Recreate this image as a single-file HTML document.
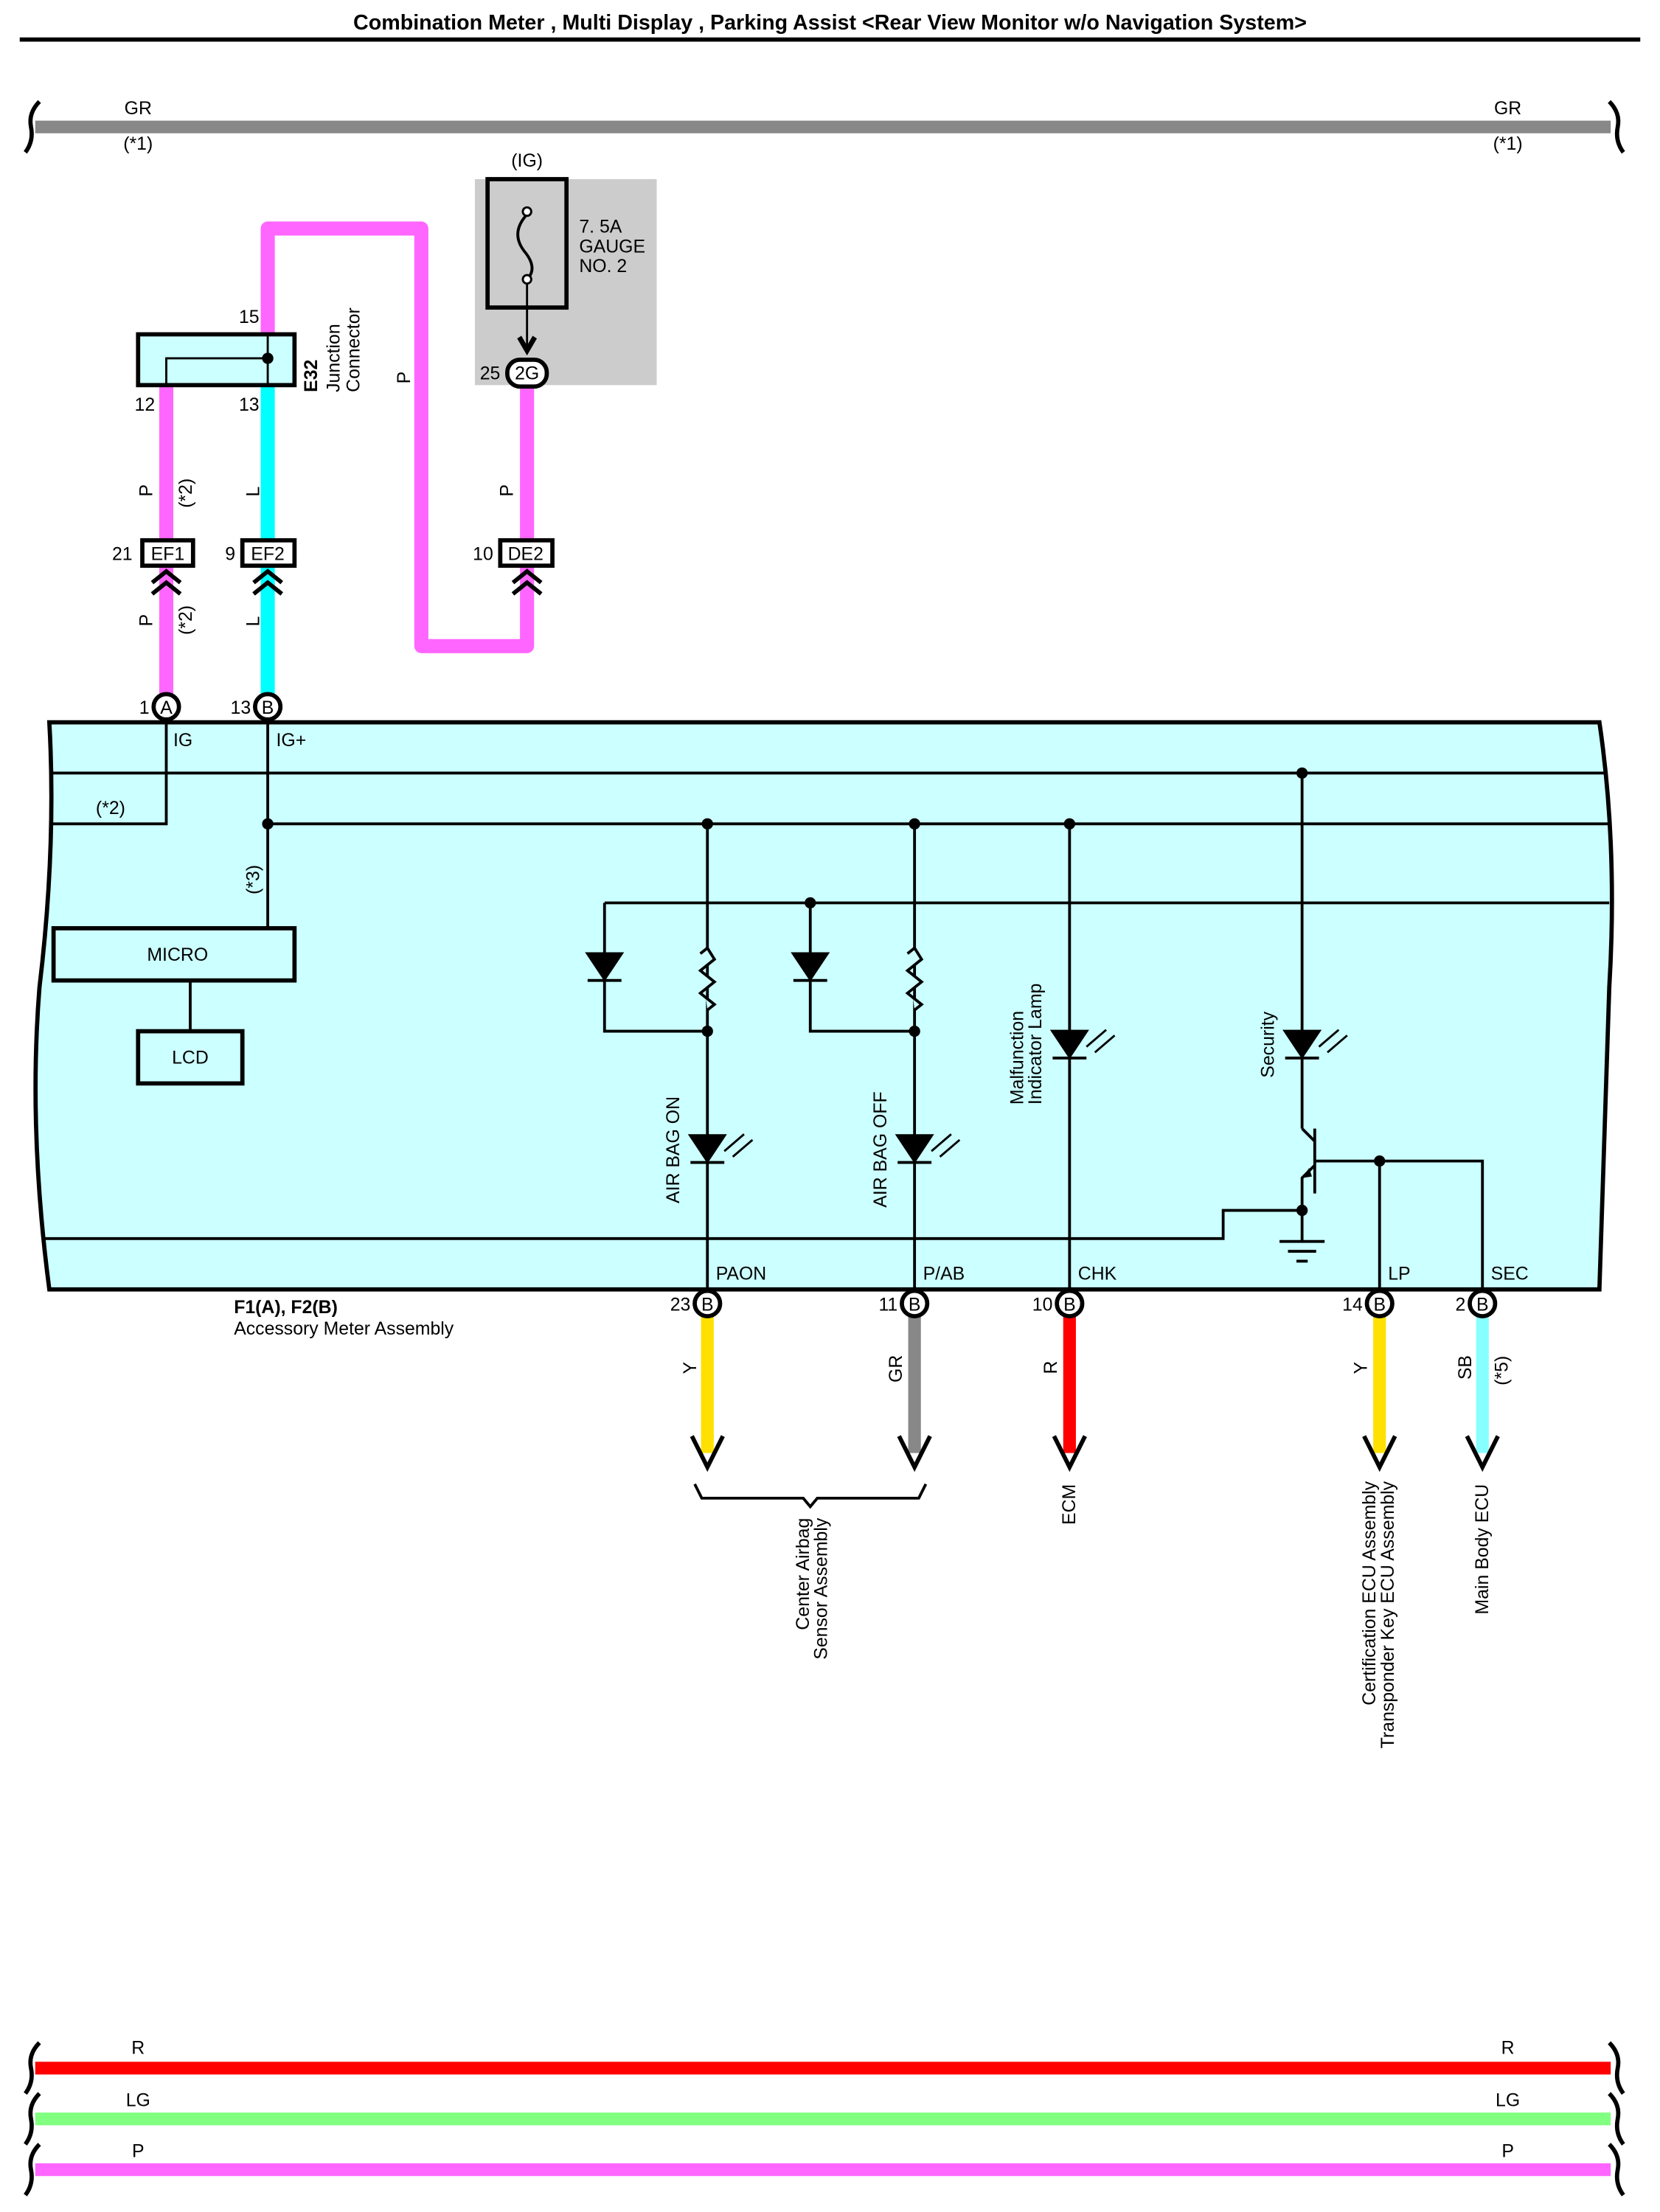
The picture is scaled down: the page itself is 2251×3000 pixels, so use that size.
<!DOCTYPE html>
<html><head><meta charset="utf-8"><style>html,body{margin:0;padding:0;background:#fff}svg{display:block}text{font-family:"Liberation Sans",sans-serif;font-size:13px;fill:#000}</style></head><body>
<svg width="2251" height="3000" viewBox="0 0 1178 1568" preserveAspectRatio="none" xmlns="http://www.w3.org/2000/svg">
<text x="589" y="21" text-anchor="middle" font-weight="bold" style="font-size:15px">Combination Meter , Multi Display , Parking Assist &lt;Rear View Monitor w/o Navigation System&gt;</text>
<line x1="14" y1="28" x2="1164" y2="28" stroke="#000" stroke-width="3"/>
<g fill="none" stroke="#000" stroke-width="3">
<path d="M28 72 Q20 80 22 90 Q24 100 18 108"/><path d="M1142 72 Q1150 80 1148 90 Q1146 100 1152 108"/>
<path d="M28 1448 Q20 1456 22 1466 Q24 1476 18 1484"/><path d="M1142 1448 Q1150 1456 1148 1466 Q1146 1476 1152 1484"/>
<path d="M28 1484 Q20 1492 22 1502 Q24 1512 18 1520"/><path d="M1142 1484 Q1150 1492 1148 1502 Q1146 1512 1152 1520"/>
<path d="M28 1520 Q20 1528 22 1538 Q24 1548 18 1556"/><path d="M1142 1520 Q1150 1528 1148 1538 Q1146 1548 1152 1556"/>
</g>
<line x1="25" y1="90" x2="1143" y2="90" stroke="#888" stroke-width="9"/>
<text x="98" y="81" text-anchor="middle">GR</text><text x="1070" y="81" text-anchor="middle">GR</text>
<text x="98" y="106" text-anchor="middle">(*1)</text><text x="1070" y="106" text-anchor="middle">(*1)</text>
<line x1="25" y1="1466" x2="1143" y2="1466" stroke="#f00" stroke-width="9"/>
<line x1="25" y1="1502" x2="1143" y2="1502" stroke="#80ff80" stroke-width="9"/>
<line x1="25" y1="1538" x2="1143" y2="1538" stroke="#ff66ff" stroke-width="9"/>
<text x="98" y="1456" text-anchor="middle">R</text><text x="1070" y="1456" text-anchor="middle">R</text>
<text x="98" y="1493" text-anchor="middle">LG</text><text x="1070" y="1493" text-anchor="middle">LG</text>
<text x="98" y="1529" text-anchor="middle">P</text><text x="1070" y="1529" text-anchor="middle">P</text>
<rect x="337" y="127" width="129" height="146" fill="#ccc"/>
<text x="374" y="118" text-anchor="middle">(IG)</text>
<rect x="346" y="127" width="56" height="91" fill="none" stroke="#000" stroke-width="3"/>
<path d="M374 152 Q362 165 372 178 Q382 190 374 198" fill="none" stroke="#000" stroke-width="2"/>
<circle cx="374" cy="150" r="3" fill="#fff" stroke="#000" stroke-width="1.5"/><circle cx="374" cy="198" r="3" fill="#fff" stroke="#000" stroke-width="1.5"/>
<line x1="374" y1="201" x2="374" y2="250" stroke="#000" stroke-width="1.5"/>
<path d="M367 240 L374 252 L381 240 L378 238 L374 245 L370 238 Z" fill="#000"/>
<text x="411" y="165">7. 5A</text><text x="411" y="179">GAUGE</text><text x="411" y="193">NO. 2</text>
<path d="M374 273 V458 H299 V162 H190 V237" fill="none" stroke="#ff66ff" stroke-width="10" stroke-linejoin="round"/>
<rect x="360" y="255" width="28" height="19" rx="9" fill="#fff" stroke="#000" stroke-width="3"/>
<text x="374" y="269" text-anchor="middle">2G</text><text x="355" y="269" text-anchor="end">25</text>
<text transform="translate(291,272) rotate(-90)">P</text>
<text transform="translate(364,352) rotate(-90)">P</text>
<line x1="118" y1="273" x2="118" y2="500" stroke="#ff66ff" stroke-width="10"/>
<line x1="190" y1="273" x2="190" y2="500" stroke="#00ffff" stroke-width="10"/>
<rect x="98" y="237" width="111" height="36" fill="#ccffff" stroke="#000" stroke-width="3"/>
<path d="M190 237 V273 M190 254 H118 V273" fill="none" stroke="#000" stroke-width="1.5"/>
<circle cx="190" cy="254" r="4" fill="#000"/>
<text x="184" y="229" text-anchor="end">15</text><text x="110" y="291" text-anchor="end">12</text><text x="184" y="291" text-anchor="end">13</text>
<text transform="translate(225,278) rotate(-90)" font-weight="bold">E32</text>
<text transform="translate(241,278) rotate(-90)">Junction</text><text transform="translate(255,278) rotate(-90)">Connector</text>
<text transform="translate(108,352) rotate(-90)">P</text><text transform="translate(108,444) rotate(-90)">P</text>
<text transform="translate(136,360) rotate(-90)">(*2)</text><text transform="translate(136,450) rotate(-90)">(*2)</text>
<text transform="translate(184,352) rotate(-90)">L</text><text transform="translate(184,444) rotate(-90)">L</text>
<g fill="#fff" stroke="#000" stroke-width="3">
<rect x="101" y="383" width="36" height="18"/><rect x="172" y="383" width="37" height="18"/><rect x="355" y="383" width="37" height="18"/></g>
<text x="119" y="397" text-anchor="middle">EF1</text><text x="190" y="397" text-anchor="middle">EF2</text><text x="373" y="397" text-anchor="middle">DE2</text>
<text x="94" y="397" text-anchor="end">21</text><text x="167" y="397" text-anchor="end">9</text><text x="350" y="397" text-anchor="end">10</text>
<g fill="none" stroke="#000" stroke-width="3">
<path d="M108 413 L118 405 L128 413 M108 421 L118 413 L128 421"/>
<path d="M180 413 L190 405 L200 413 M180 421 L190 413 L200 421"/>
<path d="M364 413 L374 405 L384 413 M364 421 L374 413 L384 421"/></g>
<path d="M35 512 H1135 Q1148 600 1142 700 Q1138 820 1135 914 H35 Q20 800 28 700 Q40 600 35 512 Z" fill="#ccffff" stroke="#000" stroke-width="3"/>
<g stroke="#000" stroke-width="2" fill="none">
<line x1="35" y1="548" x2="1140" y2="548"/>
<path d="M118 512 V584 H35"/>
<line x1="190" y1="584" x2="1142" y2="584"/>
<line x1="190" y1="512" x2="190" y2="658"/>
<line x1="429" y1="640" x2="1142" y2="640"/>
<path d="M30 878 H868 V858 H924"/>
<line x1="135" y1="695" x2="135" y2="731"/>
<line x1="502" y1="584" x2="502" y2="914"/>
<line x1="649" y1="584" x2="649" y2="914"/>
<line x1="759" y1="584" x2="759" y2="914"/>
<path d="M429 640 V731 H502"/><path d="M575 640 V731 H649"/>
<line x1="924" y1="548" x2="924" y2="800"/>
<path d="M924 800 L933 809 M924 858 V835 L933 826 M933 800 V846 M933 823 H1052 V914 M979 823 V914 M924 858 V880"/>
<path d="M908 880 H940 M914 887 H934 M920 894 H928"/>
</g>
<path d="M497 676 L502 672 L507 680 L497 688 L507 696 L497 704 L507 712 L502 716" fill="#ccffff" stroke="#000" stroke-width="2"/>
<path d="M644 676 L649 672 L654 680 L644 688 L654 696 L644 704 L654 712 L649 716" fill="#ccffff" stroke="#000" stroke-width="2"/>
<g fill="#000" stroke="#000" stroke-width="2">
<path d="M417 676 H441 L429 694 Z"/><line x1="417" y1="695" x2="441" y2="695"/>
<path d="M563 676 H587 L575 694 Z"/><line x1="563" y1="695" x2="587" y2="695"/>
<path d="M490 805 H514 L502 823 Z"/><line x1="490" y1="824" x2="514" y2="824"/>
<path d="M637 805 H661 L649 823 Z"/><line x1="637" y1="824" x2="661" y2="824"/>
<path d="M747 731 H771 L759 749 Z"/><line x1="747" y1="750" x2="771" y2="750"/>
<path d="M912 731 H936 L924 749 Z"/><line x1="912" y1="750" x2="936" y2="750"/>
</g>
<g stroke="#000" stroke-width="1.5" fill="#000">
<path d="M514 816 L528 804 M520 820 L534 808"/><path d="M661 816 L675 804 M667 820 L681 808"/>
<path d="M771 742 L785 730 M777 746 L791 734"/><path d="M936 742 L950 730 M942 746 L956 734"/>
</g>
<path d="M924 835 L929 828 L931 834 Z" fill="#000"/>
<g fill="#000"><circle cx="190" cy="584" r="4"/><circle cx="502" cy="584" r="4"/><circle cx="649" cy="584" r="4"/><circle cx="759" cy="584" r="4"/><circle cx="924" cy="548" r="4"/><circle cx="575" cy="640" r="4"/><circle cx="502" cy="731" r="4"/><circle cx="649" cy="731" r="4"/><circle cx="979" cy="823" r="4"/><circle cx="924" cy="858" r="4"/></g>
<rect x="38" y="658" width="171" height="37" fill="#ccffff" stroke="#000" stroke-width="3"/><text x="126" y="681" text-anchor="middle">MICRO</text>
<rect x="98" y="731" width="74" height="37" fill="#ccffff" stroke="#000" stroke-width="3"/><text x="135" y="754" text-anchor="middle">LCD</text>
<text x="123" y="529">IG</text><text x="196" y="529">IG+</text><text x="68" y="577">(*2)</text>
<text transform="translate(184,634) rotate(-90)">(*3)</text>
<text transform="translate(482,853) rotate(-90)">AIR BAG ON</text>
<text transform="translate(629,856) rotate(-90)">AIR BAG OFF</text>
<text transform="translate(726,783) rotate(-90)">Malfunction</text><text transform="translate(739,783) rotate(-90)">Indicator Lamp</text>
<text transform="translate(904,764) rotate(-90)">Security</text>
<text x="508" y="907">PAON</text><text x="655" y="907">P/AB</text><text x="765" y="907">CHK</text><text x="985" y="907">LP</text><text x="1058" y="907">SEC</text>
<text x="166" y="931" font-weight="bold">F1(A), F2(B)</text><text x="166" y="946">Accessory Meter Assembly</text>
<g stroke-width="9"><line x1="502" y1="932" x2="502" y2="1030" stroke="#ffe000"/><line x1="649" y1="932" x2="649" y2="1030" stroke="#888"/><line x1="759" y1="932" x2="759" y2="1030" stroke="#f00"/><line x1="979" y1="932" x2="979" y2="1030" stroke="#ffe000"/><line x1="1052" y1="932" x2="1052" y2="1030" stroke="#88ffff"/></g>
<g fill="none" stroke="#000" stroke-width="3"><path d="M491 1018 L502 1040 L513 1018"/><path d="M638 1018 L649 1040 L660 1018"/><path d="M748 1018 L759 1040 L770 1018"/><path d="M968 1018 L979 1040 L990 1018"/><path d="M1041 1018 L1052 1040 L1063 1018"/></g>
<path d="M493 1052 L498 1062 H570 L575 1068 L580 1062 H652 L657 1052" fill="none" stroke="#000" stroke-width="2"/>
<g fill="#fff" stroke="#000" stroke-width="3"><circle cx="118" cy="501" r="9"/><circle cx="190" cy="501" r="9"/><circle cx="502" cy="924" r="9"/><circle cx="649" cy="924" r="9"/><circle cx="759" cy="924" r="9"/><circle cx="979" cy="924" r="9"/><circle cx="1052" cy="924" r="9"/></g>
<g text-anchor="middle"><text x="118" y="506">A</text><text x="190" y="506">B</text><text x="502" y="929">B</text><text x="649" y="929">B</text><text x="759" y="929">B</text><text x="979" y="929">B</text><text x="1052" y="929">B</text></g>
<g text-anchor="end"><text x="106" y="506">1</text><text x="178" y="506">13</text><text x="490" y="929">23</text><text x="637" y="929">11</text><text x="747" y="929">10</text><text x="967" y="929">14</text><text x="1040" y="929">2</text></g>
<text transform="translate(494,974) rotate(-90)">Y</text><text transform="translate(640,980) rotate(-90)">GR</text><text transform="translate(750,974) rotate(-90)">R</text><text transform="translate(970,974) rotate(-90)">Y</text><text transform="translate(1044,978) rotate(-90)">SB</text>
<text transform="translate(1070,982) rotate(-90)">(*5)</text>
<g text-anchor="end"><text transform="translate(574,1076) rotate(-90)">Center Airbag</text><text transform="translate(587,1076) rotate(-90)">Sensor Assembly</text>
<text transform="translate(763,1052) rotate(-90)">ECM</text>
<text transform="translate(976,1050) rotate(-90)">Certification ECU Assembly</text><text transform="translate(989,1050) rotate(-90)">Transponder Key ECU Assembly</text>
<text transform="translate(1056,1052) rotate(-90)">Main Body ECU</text></g>
</svg>
</body></html>
